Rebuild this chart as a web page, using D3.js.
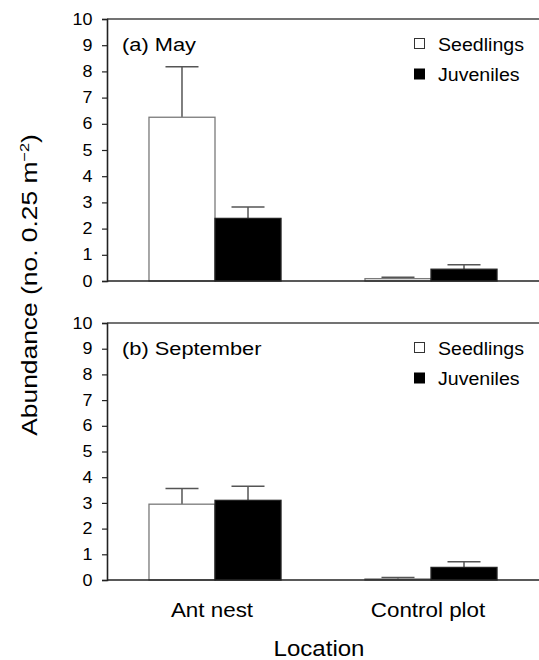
<!DOCTYPE html>
<html>
<head>
<meta charset="utf-8">
<script src="https://cdn.jsdelivr.net/npm/d3@7"></script>
<style>
  html, body { margin: 0; padding: 0; background: #fff; }
  svg { display: block; }
  text { font-family: "Liberation Sans", Arial, sans-serif; fill: #000; }
</style>
</head>
<body>
<svg id="chart" width="539" height="660"></svg>
<script>
// ---- data ----
const locations = ["Ant nest", "Control plot"];
const seriesNames = ["Seedlings", "Juveniles"];
const yTicks = [0, 1, 2, 3, 4, 5, 6, 7, 8, 9, 10];

const panelLabels = ["(a) May", "(b) September"];

const seedlingsMay = [6.25, 0.09];
const seedlingsMayErr = [1.93, 0.05];
const juvenilesMay = [2.39, 0.45];
const juvenilesMayErr = [0.43, 0.17];

const seedlingsSep = [2.95, 0.04];
const seedlingsSepErr = [0.61, 0.06];
const juvenilesSep = [3.10, 0.49];
const juvenilesSepErr = [0.55, 0.22];

const yTitle = "Abundance (no. 0.25 m";
const xTitle = "Location";

// ---- layout ----
const S = 1.12; // horizontal glyph stretch of the original
const left = 107, right = 539;
const panels = [
  { label: panelLabels[0], top: 19, bottom: 281,
    vals: [seedlingsMay, juvenilesMay], errs: [seedlingsMayErr, juvenilesMayErr] },
  { label: panelLabels[1], top: 323, bottom: 580,
    vals: [seedlingsSep, juvenilesSep], errs: [seedlingsSepErr, juvenilesSepErr] }
];
const fills = ["#ffffff", "#000000"];
const strokes = ["#7a7a7a", "#222222"];
const axisColor = "#222";

const svg = d3.select("#chart");

const x0 = d3.scaleBand().domain(locations).range([left, right]).padding(0);
const x1 = d3.scaleBand().domain(seriesNames).range([0, x0.bandwidth()]).paddingInner(0).paddingOuter(0.636);

panels.forEach(p => {
  const y = d3.scaleLinear().domain([0, 10]).range([p.bottom, p.top]);
  const g = svg.append("g");

  // top frame line
  g.append("line")
    .attr("x1", left).attr("x2", right)
    .attr("y1", y(10)).attr("y2", y(10))
    .attr("stroke", "#444").attr("stroke-width", 1.5);

  // bars
  seriesNames.forEach((s, si) => {
    locations.forEach((loc, li) => {
      const v = p.vals[si][li], e = p.errs[si][li];
      const bx = x0(loc) + x1(s);
      const bw = x1.bandwidth();
      const cx = bx + bw / 2;
      // error bar
      g.append("line")
        .attr("x1", cx).attr("x2", cx)
        .attr("y1", y(v)).attr("y2", y(v + e))
        .attr("stroke", "#555").attr("stroke-width", 1.5);
      g.append("line")
        .attr("x1", cx - bw / 4).attr("x2", cx + bw / 4)
        .attr("y1", y(v + e)).attr("y2", y(v + e))
        .attr("stroke", "#555").attr("stroke-width", 1.5);
      g.append("rect")
        .attr("x", bx).attr("width", bw)
        .attr("y", y(v)).attr("height", y(0) - y(v))
        .attr("fill", fills[si]).attr("stroke", strokes[si]).attr("stroke-width", 1.3);
    });
  });

  // bottom axis line
  g.append("line")
    .attr("x1", left).attr("x2", right)
    .attr("y1", y(0)).attr("y2", y(0))
    .attr("stroke", axisColor).attr("stroke-width", 1.6);

  // left axis
  const ax = g.append("g").attr("transform", `translate(${left},0)`)
    .call(d3.axisLeft(y).tickValues(yTicks).tickFormat(d3.format("d")).tickSize(5).tickPadding(9));
  ax.select(".domain").attr("stroke", axisColor).attr("stroke-width", 1.6);
  ax.selectAll(".tick line").attr("stroke", axisColor).attr("stroke-width", 1.2);
  ax.selectAll(".tick text")
    .attr("font-size", 16)
    .attr("font-family", "Liberation Sans, Arial, sans-serif")
    .attr("fill", "#000")
    .attr("x", -14.5 / S)
    .attr("transform", `scale(${S},1)`);

  // panel label
  g.append("text")
    .attr("transform", `translate(122,${p.top + 32}) scale(1.18,1)`)
    .attr("font-size", 18.5)
    .text(p.label);

  // legend
  seriesNames.forEach((s, si) => {
    g.append("rect")
      .attr("x", 414.5).attr("y", p.top + 19.5 + si * 30.5)
      .attr("width", 10).attr("height", 10)
      .attr("fill", fills[si]).attr("stroke", si === 0 ? "#333" : "#000").attr("stroke-width", 1);
    g.append("text")
      .attr("transform", `translate(438,${p.top + 31.5 + si * 30.5}) scale(${S},1)`)
      .attr("font-size", 17.5)
      .text(s);
  });
});

// category labels
svg.selectAll("text.cat").data(locations).enter().append("text")
  .attr("class", "cat")
  .attr("transform", d => `translate(${x0(d) + x0.bandwidth() / 2 - 3},617) scale(${S},1)`)
  .attr("text-anchor", "middle")
  .attr("font-size", 20)
  .text(d => d);

// x title
svg.append("text")
  .attr("transform", `translate(319,656) scale(${S},1)`)
  .attr("text-anchor", "middle")
  .attr("font-size", 21.5)
  .text(xTitle);

// y title
const yt = svg.append("text")
  .attr("transform", `translate(37,285) rotate(-90) scale(1.2,1)`)
  .attr("text-anchor", "middle")
  .attr("font-size", 22);
yt.append("tspan").text(yTitle);
yt.append("tspan").attr("font-size", 13.5).attr("dy", -8).text("\u22122");
yt.append("tspan").attr("dy", 8).text(")");
</script>
</body>
</html>
